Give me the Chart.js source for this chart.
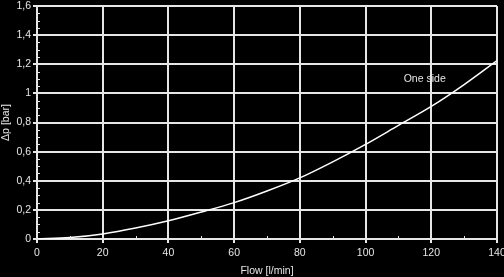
<!DOCTYPE html>
<html><head><meta charset="utf-8">
<script src="https://cdn.jsdelivr.net/npm/chart.js@4/dist/chart.umd.min.js"></script>
<style>html,body{margin:0;padding:0;background:#000;}#wrap{width:504px;height:277px;}</style>
</head><body><div id="wrap"><canvas id="c" width="504" height="277"></canvas></div>
<script>
const flow = [0, 10, 20, 30, 40, 50, 60, 70, 80, 90, 100, 110, 120, 130, 140];
const dp = [0, 0.01, 0.035, 0.075, 0.125, 0.185, 0.25, 0.33, 0.42, 0.53, 0.65, 0.78, 0.91, 1.06, 1.225];
const seriesLabel = 'One side';
const labelAnchor = {x: 118, y: 1.1};
const xMinorTicks = [10, 30, 50, 70, 90, 110, 130];
const yMinorTicks = [0.05,0.1,0.15,0.25,0.3,0.35,0.45,0.5,0.55,0.65,0.7,0.75,0.85,0.9,0.95,1.05,1.1,1.15,1.25,1.3,1.35,1.45,1.5,1.55];

const FG = '#e6e6e6';
const FONT = {family: 'Liberation Sans, Arial, sans-serif', size: 10.5};

const bgPlugin = {
  id: 'bg',
  beforeDraw(chart) {
    const ctx = chart.ctx;
    ctx.save(); ctx.fillStyle = '#000'; ctx.fillRect(0, 0, chart.width, chart.height); ctx.restore();
  },
  afterDatasetsDraw(chart) {
    const ctx = chart.ctx, xs = chart.scales.x, ys = chart.scales.y;
    ctx.save();
    ctx.strokeStyle = FG; ctx.lineWidth = 1;
    const x0 = xs.getPixelForValue(0), y0 = ys.getPixelForValue(0);
    ctx.beginPath();
    xMinorTicks.forEach(v => { const px = Math.round(xs.getPixelForValue(v)) + 0.5; ctx.moveTo(px, y0); ctx.lineTo(px, y0 - 3); });
    yMinorTicks.forEach(v => { const py = Math.round(ys.getPixelForValue(v)) + 0.5; ctx.moveTo(x0, py); ctx.lineTo(x0 + 3, py); });
    ctx.stroke();
    ctx.fillStyle = FG; ctx.font = '10.5px Liberation Sans, Arial, sans-serif';
    ctx.textAlign = 'center'; ctx.textBaseline = 'middle';
    ctx.fillText(seriesLabel, xs.getPixelForValue(labelAnchor.x), ys.getPixelForValue(labelAnchor.y));
    ctx.restore();
  }
};

new Chart(document.getElementById('c'), {
  type: 'line',
  data: {
    datasets: [{
      label: seriesLabel,
      data: flow.map((f, i) => ({x: f, y: dp[i]})),
      borderColor: '#ffffff',
      borderWidth: 1.5,
      pointRadius: 0,
      cubicInterpolationMode: 'monotone',
      fill: false
    }]
  },
  options: {
    responsive: false,
    animation: false,
    devicePixelRatio: 1,
    layout: {padding: {left: 0, right: 7, top: 6, bottom: 0}},
    plugins: {legend: {display: false}, tooltip: {enabled: false}},
    scales: {
      x: {
        type: 'linear', min: 0, max: 140,
        afterFit(s) { s.height = 38; s.paddingLeft = 0; s.paddingRight = 0; },
        border: {color: FG, width: 2},
        grid: {color: FG, lineWidth: 2, tickLength: 4, drawTicks: true},
        ticks: {stepSize: 20, color: FG, font: FONT, padding: 4, maxRotation: 0, autoSkip: false},
        title: {display: true, text: 'Flow [l/min]', color: FG, font: FONT, padding: {top: 0, bottom: 0}}
      },
      y: {
        type: 'linear', min: 0, max: 1.6,
        afterFit(s) { s.width = 37; s.paddingTop = 0; s.paddingBottom = 0; },
        border: {color: FG, width: 2},
        grid: {color: FG, lineWidth: 2, tickLength: 4, drawTicks: true},
        ticks: {stepSize: 0.2, color: FG, font: FONT, padding: 2,
          callback: v => String(Math.round(v * 10) / 10).replace('.', ',')},
        title: {display: true, text: 'Δp [bar]', color: FG, font: FONT, padding: {top: 0, bottom: 0}}
      }
    }
  },
  plugins: [bgPlugin]
});
</script></body></html>
